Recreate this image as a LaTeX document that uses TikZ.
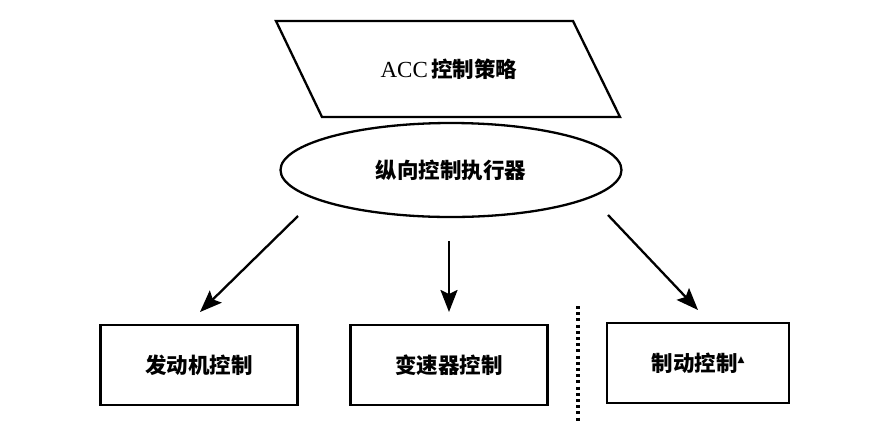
\documentclass[tikz,border=0pt]{standalone}
\usepackage{fontspec}
\setmainfont{Liberation Serif}
\newfontfamily\cjk{Noto Sans CJK SC}
\newfontfamily\symfont{DejaVu Sans}
\usetikzlibrary{shapes.geometric,arrows.meta}
\begin{document}
\begin{tikzpicture}[x=1pt,y=-1pt,
  line/.style={line width=2.3pt,line join=miter},
  arr/.style={line width=2.3pt,-{Stealth[length=22pt,width=17pt,inset=4pt]}},
  lbl/.style={font=\fontsize{21.5}{24}\selectfont},
  boxnode/.style={draw,line width=2.3pt,minimum width=197pt,minimum height=80pt,inner sep=0pt}]
\useasboundingbox (0,0) rectangle (872,432);
% parallelogram
\coordinate (p1) at (276,21);
\coordinate (p2) at (573,21);
\coordinate (p3) at (620,117);
\coordinate (p4) at (322,117);
\draw[line] (p1) -- (p2) -- (p3) -- (p4) -- cycle;
\node[lbl] (strategy) at (449,69) {{\fontsize{23}{24}\selectfont ACC}\,{\cjk\bfseries 控制策略}};
% ellipse
\node[draw,ellipse,line width=2.3pt,minimum width=341pt,minimum height=94pt,inner sep=0pt,lbl] (exec) at (451,170) {\cjk\bfseries 纵向控制执行器};
% boxes
\node[boxnode,lbl] (engine) at (199,365) {\cjk\bfseries 发动机控制};
\node[boxnode,lbl] (trans) at (449,365) {\cjk\bfseries 变速器控制};
\node[boxnode,minimum width=182pt,lbl] (brake) at (698,363) {{\cjk\bfseries 制动控制}\raisebox{9pt}{\symfont\fontsize{9}{9}\selectfont ▲}};
% arrows
\coordinate (s1) at (298,216);
\coordinate (e1) at (200,312);
\coordinate (s2) at (449,241);
\coordinate (e2) at (449,312);
\coordinate (s3) at (608,215);
\coordinate (e3) at (698,310);
\draw[arr] (s1) -- (e1);
\draw[arr] (s2) -- (e2);
\draw[arr] (s3) -- (e3);
% dotted separator
\coordinate (d1) at (578,306);
\coordinate (d2) at (578,421);
\draw[line width=3.5pt,dash pattern=on 3pt off 3.2pt] (d1) -- (d2);
\end{tikzpicture}
\end{document}
